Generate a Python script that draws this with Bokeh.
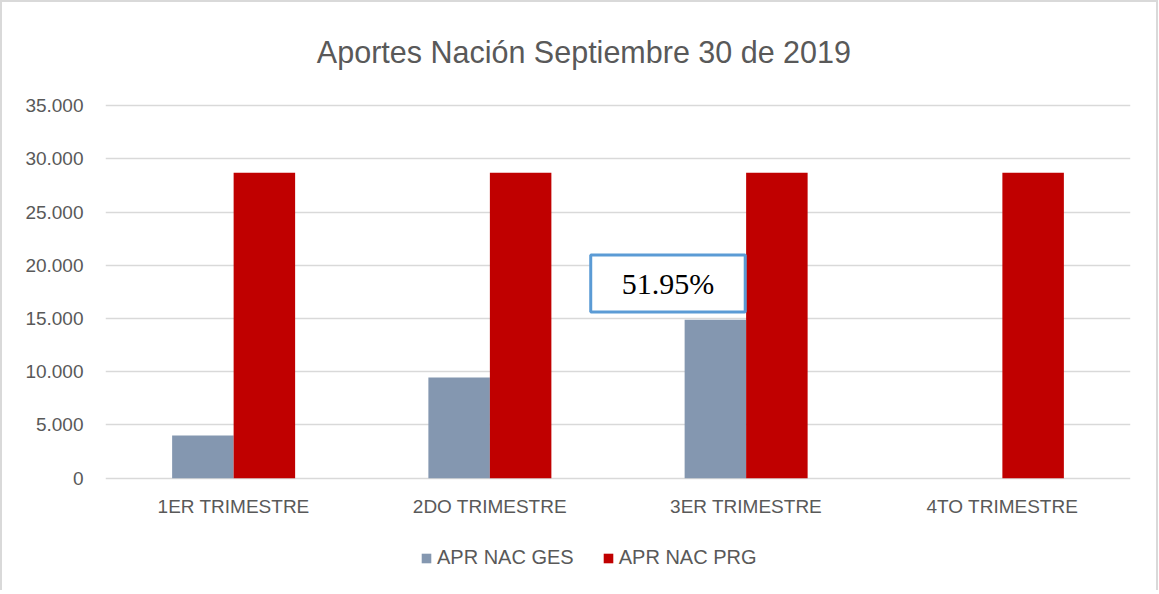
from bokeh.plotting import figure
from bokeh.models import FactorRange, Range1d, Label, Legend, LegendItem, ColumnDataSource, FixedTicker
from bokeh.transform import dodge
from bokeh.core.properties import value
from bokeh.embed import file_html
from bokeh.resources import INLINE

# ---- data ----
categories = ["1ER TRIMESTRE", "2DO TRIMESTRE", "3ER TRIMESTRE", "4TO TRIMESTRE"]
apr_nac_ges = [4010, 9460, 14900, 0]
apr_nac_prg = [28700, 28700, 28700, 28700]
series_names = ["APR NAC GES", "APR NAC PRG"]
y_ticks = [0, 5000, 10000, 15000, 20000, 25000, 30000, 35000]
y_tick_labels = ["0", "5.000", "10.000", "15.000", "20.000", "25.000", "30.000", "35.000"]
title_text = "Aportes Nación Septiembre 30 de 2019"
annotation_text = "51.95%"
annotation_category_index = 2  # 3ER TRIMESTRE

FONT = "Liberation Sans"
TXT = "#595959"
GES_COLOR = "#8497B0"
PRG_COLOR = "#C00000"

source = ColumnDataSource(dict(cat=categories, ges=apr_nac_ges, prg=apr_nac_prg))

# frame spans nearly the whole card so title, category labels and legend sit inside it
Y_BOTTOM, Y_TOP = -10555, 43017
p = figure(
    title=None,
    frame_width=1025, frame_height=570,
    x_range=FactorRange(factors=categories, range_padding=0),
    y_range=Range1d(Y_BOTTOM, Y_TOP),
    output_backend="svg", toolbar_location=None,
    min_border_left=103, min_border_right=26, min_border_top=18, min_border_bottom=0,
)
p.styles = {"border-top": "2px solid #D9D9D9", "border-left": "2px solid #D9D9D9",
            "border-right": "2px solid #D9D9D9"}
p.outline_line_color = None
p.background_fill_color = "white"
p.border_fill_color = "white"

r_ges = p.vbar(x=dodge("cat", -0.12, range=p.x_range), top="ges", width=0.24,
               source=source, fill_color=GES_COLOR, line_color=None)
r_prg = p.vbar(x=dodge("cat", 0.12, range=p.x_range), top="prg", width=0.24,
               source=source, fill_color=PRG_COLOR, line_color=None)

# y axis + grid
p.xgrid.grid_line_color = None
p.yaxis.ticker = FixedTicker(ticks=y_ticks)
p.ygrid.ticker = FixedTicker(ticks=y_ticks)
p.ygrid.grid_line_color = "#D9D9D9"
p.ygrid.grid_line_width = 1.5
p.yaxis.major_label_overrides = {t: l for t, l in zip(y_ticks, y_tick_labels)}
ax = p.yaxis[0]
ax.axis_line_color = None
ax.major_tick_line_color = None
ax.minor_tick_line_color = None
ax.major_tick_in = 0
ax.major_tick_out = 0
ax.major_label_text_font = FONT
ax.major_label_text_font_size = "19px"
ax.major_label_text_color = TXT
ax.major_label_standoff = 22
p.xaxis.visible = False

# category labels under the bars
cat_label_y = -2660
p.text(x=categories, y=[cat_label_y] * len(categories), text=categories,
       text_font=value(FONT), text_font_size="19px", text_color=TXT,
       text_align="center", text_baseline="alphabetic")

# title
p.add_layout(Label(x=1.867, y=40080, text=title_text, text_font=FONT, text_font_size="30.5px",
                   text_color=TXT, text_align="center", text_baseline="alphabetic"))

# annotation box
p.add_layout(Label(x=annotation_category_index + 0.195, y=18300, text=annotation_text,
                   text_font="Liberation Serif", text_font_size="30px", text_color="black",
                   text_align="center", text_baseline="middle",
                   background_fill_color="white", border_line_color="#5B9BD5",
                   border_line_width=3, padding=dict(left=31, right=31, top=12, bottom=12)))

legend = Legend(items=[LegendItem(label=series_names[0], renderers=[r_ges]),
                       LegendItem(label=series_names[1], renderers=[r_prg])],
                location=(315, 21), orientation="horizontal",
                glyph_width=12, glyph_height=12, label_height=22, label_standoff=5,
                spacing=28, padding=0, margin=0, border_line_color=None,
                background_fill_alpha=0,
                label_text_font=FONT, label_text_font_size="20px", label_text_color=TXT)
p.add_layout(legend, "center")

open("out.html", "w").write(file_html(p, INLINE))
